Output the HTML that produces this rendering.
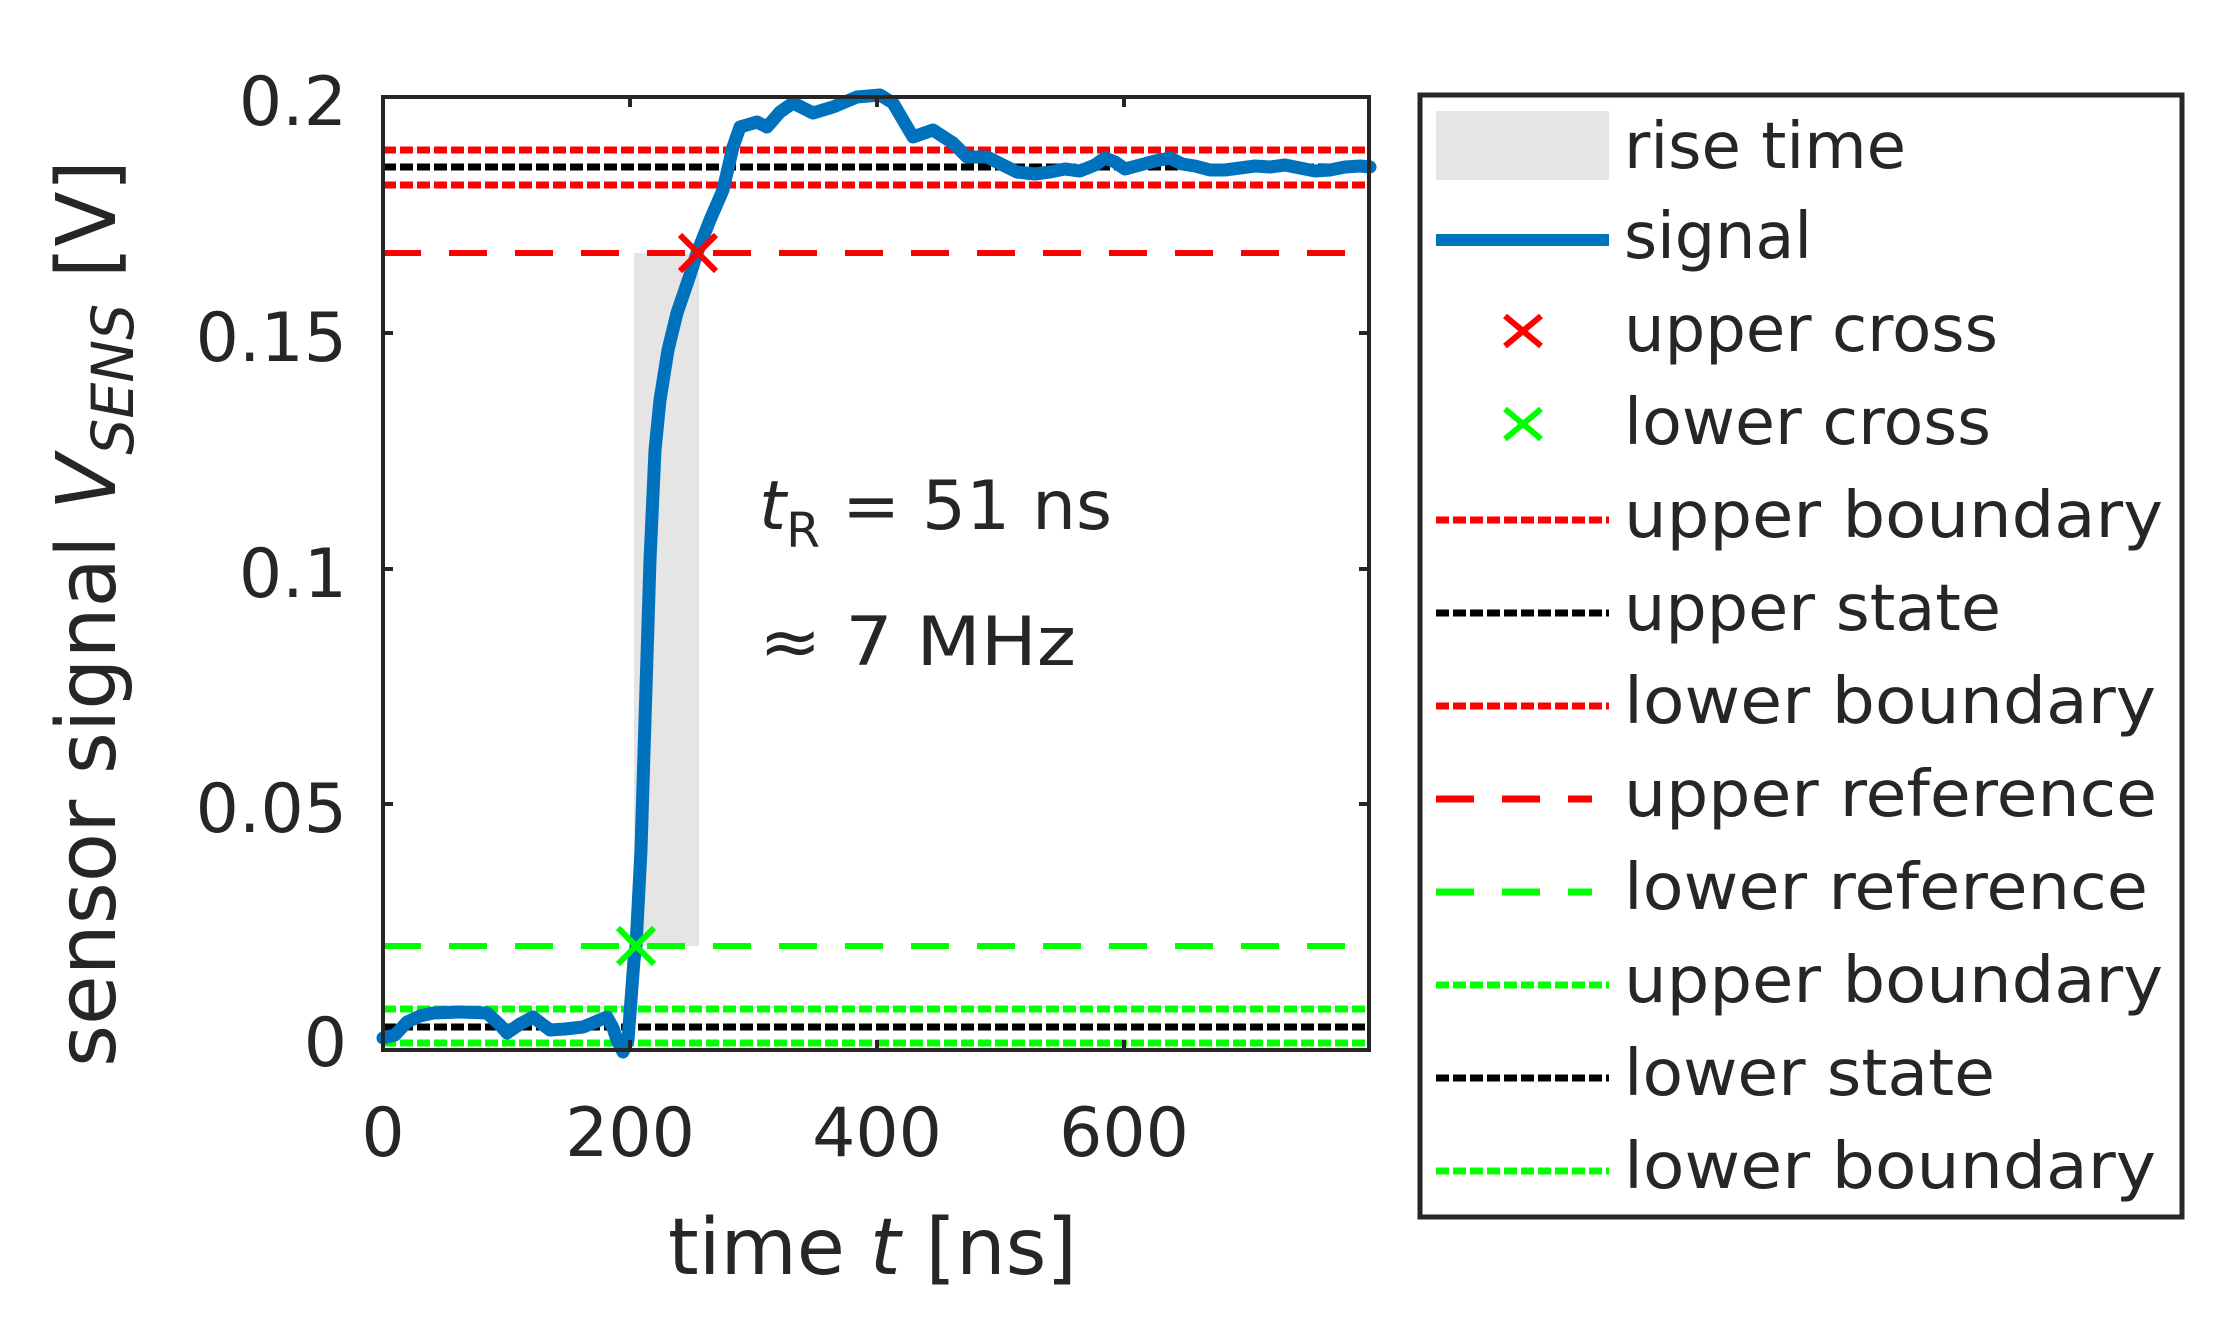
<!DOCTYPE html>
<html><head><meta charset="utf-8"><style>html,body{margin:0;padding:0;background:#fff}svg{display:block}text{font-family:"DejaVu Sans","Liberation Sans",sans-serif;fill:#262626}</style></head>
<body>
<svg width="2222" height="1336" viewBox="0 0 2222 1336" xmlns="http://www.w3.org/2000/svg">
<rect width="2222" height="1336" fill="#fff"/>
<rect x="634" y="253" width="65" height="693" fill="#e5e5e5"/>
<g stroke-width="7" fill="none">
<line x1="383" y1="150" x2="1370" y2="150" stroke="#ff0000" stroke-dasharray="13,4"/>
<line x1="383" y1="167" x2="1370" y2="167" stroke="#000" stroke-dasharray="13,4"/>
<line x1="383" y1="185" x2="1370" y2="185" stroke="#ff0000" stroke-dasharray="13,4"/>
<line x1="383" y1="253" x2="1370" y2="253" stroke="#ff0000" stroke-dasharray="38,28" stroke-width="6"/>
<line x1="383" y1="946" x2="1370" y2="946" stroke="#00ff00" stroke-dasharray="38,28" stroke-width="6"/>
<line x1="383" y1="1009" x2="1370" y2="1009" stroke="#00ff00" stroke-dasharray="13,4"/>
<line x1="383" y1="1027" x2="1370" y2="1027" stroke="#000" stroke-dasharray="13,4"/>
<line x1="383" y1="1043" x2="1370" y2="1043" stroke="#00ff00" stroke-dasharray="13,4"/>
</g>
<polyline fill="none" stroke="#0072BD" stroke-width="13" stroke-linejoin="round" stroke-linecap="round" points="383,1038 395,1035 407,1022 420,1016 433,1013 460,1012 487,1013 500,1025 507,1033 520,1024 533,1017 542,1024 550,1030 565,1029 583,1027 595,1022 607,1017 613,1028 617,1040 623,1052 628,1040 631,1000 634,960 636,946 641,850 645,720 650,560 655,450 660,400 668,350 677,313 690,275 697,253 710,220 723,190 733,147 740,127 757,122 767,127 780,112 793,103 813,113 833,107 857,97 880,95 893,103 913,137 933,130 953,143 967,157 987,157 1017,172 1035,174 1050,172 1065,169 1080,171 1095,165 1105,158 1115,162 1125,169 1140,165 1155,161 1170,158 1182,164 1195,166 1210,170 1225,170 1240,168 1255,166 1270,167 1285,165 1300,168 1315,171 1330,170 1345,167 1360,166 1370,167"/>
<g stroke-width="6">
<path d="M680,235 L716,271 M716,235 L680,271" stroke="#ff0000"/>
<path d="M618,928 L654,964 M654,928 L618,964" stroke="#00ff00"/>
</g>
<rect x="383" y="97" width="986" height="953" fill="none" stroke="#262626" stroke-width="4"/>
<g stroke="#262626" stroke-width="4">
<path d="M630,97 v10 M877,97 v10 M1124,97 v10 M630,1050 v-10 M877,1050 v-10 M1124,1050 v-10"/>
<path d="M383,333 h10 M383,569 h10 M383,804 h10 M1369,333 h-10 M1369,569 h-10 M1369,804 h-10"/>
</g>
<g font-size="68" text-anchor="end">
<text x="347" y="125">0.2</text>
<text x="347" y="361">0.15</text>
<text x="347" y="597">0.1</text>
<text x="347" y="832">0.05</text>
<text x="347" y="1066">0</text>
</g>
<g font-size="68" text-anchor="middle">
<text x="383" y="1156">0</text>
<text x="630" y="1156">200</text>
<text x="877" y="1156">400</text>
<text x="1124" y="1156">600</text>
</g>
<text x="668" y="1274" font-size="78" textLength="409" lengthAdjust="spacingAndGlyphs">time <tspan font-style="italic">t</tspan> [ns]</text>
<text transform="translate(115,1067) rotate(-90)" font-size="82" textLength="907" lengthAdjust="spacingAndGlyphs">sensor signal <tspan font-style="italic">V</tspan><tspan font-style="italic" font-size="58" dy="18">SENS</tspan><tspan dy="-18"> [V]</tspan></text>
<text x="759" y="529" font-size="68" textLength="353" lengthAdjust="spacingAndGlyphs"><tspan font-style="italic">t</tspan><tspan font-size="48" dy="18">R</tspan><tspan dy="-18"> = 51 ns</tspan></text>
<text x="759" y="665" font-size="68" textLength="317" lengthAdjust="spacingAndGlyphs">≈ 7 MHz</text>
<rect x="1420" y="95" width="762" height="1122" fill="#fff" stroke="#262626" stroke-width="5"/>
<rect x="1436" y="111" width="173" height="69" fill="#e5e5e5"/>
<line x1="1436" y1="240" x2="1609" y2="240" stroke="#0072BD" stroke-width="12"/>
<path d="M1505,316 L1541,346 M1541,316 L1505,346" stroke="#ff0000" stroke-width="6"/>
<path d="M1505,409 L1541,439 M1541,409 L1505,439" stroke="#00ff00" stroke-width="6"/>
<g stroke-width="7" stroke-dasharray="13,4">
<line x1="1436" y1="520" x2="1609" y2="520" stroke="#ff0000"/>
<line x1="1436" y1="613" x2="1609" y2="613" stroke="#000"/>
<line x1="1436" y1="706" x2="1609" y2="706" stroke="#ff0000"/>
<line x1="1436" y1="985" x2="1609" y2="985" stroke="#00ff00"/>
<line x1="1436" y1="1078" x2="1609" y2="1078" stroke="#000"/>
<line x1="1436" y1="1171" x2="1609" y2="1171" stroke="#00ff00"/>
</g>
<g stroke-width="7" stroke-dasharray="38,28">
<line x1="1436" y1="799" x2="1592" y2="799" stroke="#ff0000"/>
<line x1="1436" y1="892" x2="1592" y2="892" stroke="#00ff00"/>
</g>
<g font-size="64" fill="#000">
<text x="1624" y="168" textLength="282" lengthAdjust="spacingAndGlyphs">rise time</text>
<text x="1624" y="258" textLength="188" lengthAdjust="spacingAndGlyphs">signal</text>
<text x="1624" y="351" textLength="374" lengthAdjust="spacingAndGlyphs">upper cross</text>
<text x="1624" y="444" textLength="367" lengthAdjust="spacingAndGlyphs">lower cross</text>
<text x="1624" y="537" textLength="539" lengthAdjust="spacingAndGlyphs">upper boundary</text>
<text x="1624" y="630" textLength="377" lengthAdjust="spacingAndGlyphs">upper state</text>
<text x="1624" y="723" textLength="532" lengthAdjust="spacingAndGlyphs">lower boundary</text>
<text x="1624" y="816" textLength="533" lengthAdjust="spacingAndGlyphs">upper reference</text>
<text x="1624" y="909" textLength="524" lengthAdjust="spacingAndGlyphs">lower reference</text>
<text x="1624" y="1002" textLength="539" lengthAdjust="spacingAndGlyphs">upper boundary</text>
<text x="1624" y="1095" textLength="371" lengthAdjust="spacingAndGlyphs">lower state</text>
<text x="1624" y="1188" textLength="532" lengthAdjust="spacingAndGlyphs">lower boundary</text>
</g>
</svg>
</body></html>
